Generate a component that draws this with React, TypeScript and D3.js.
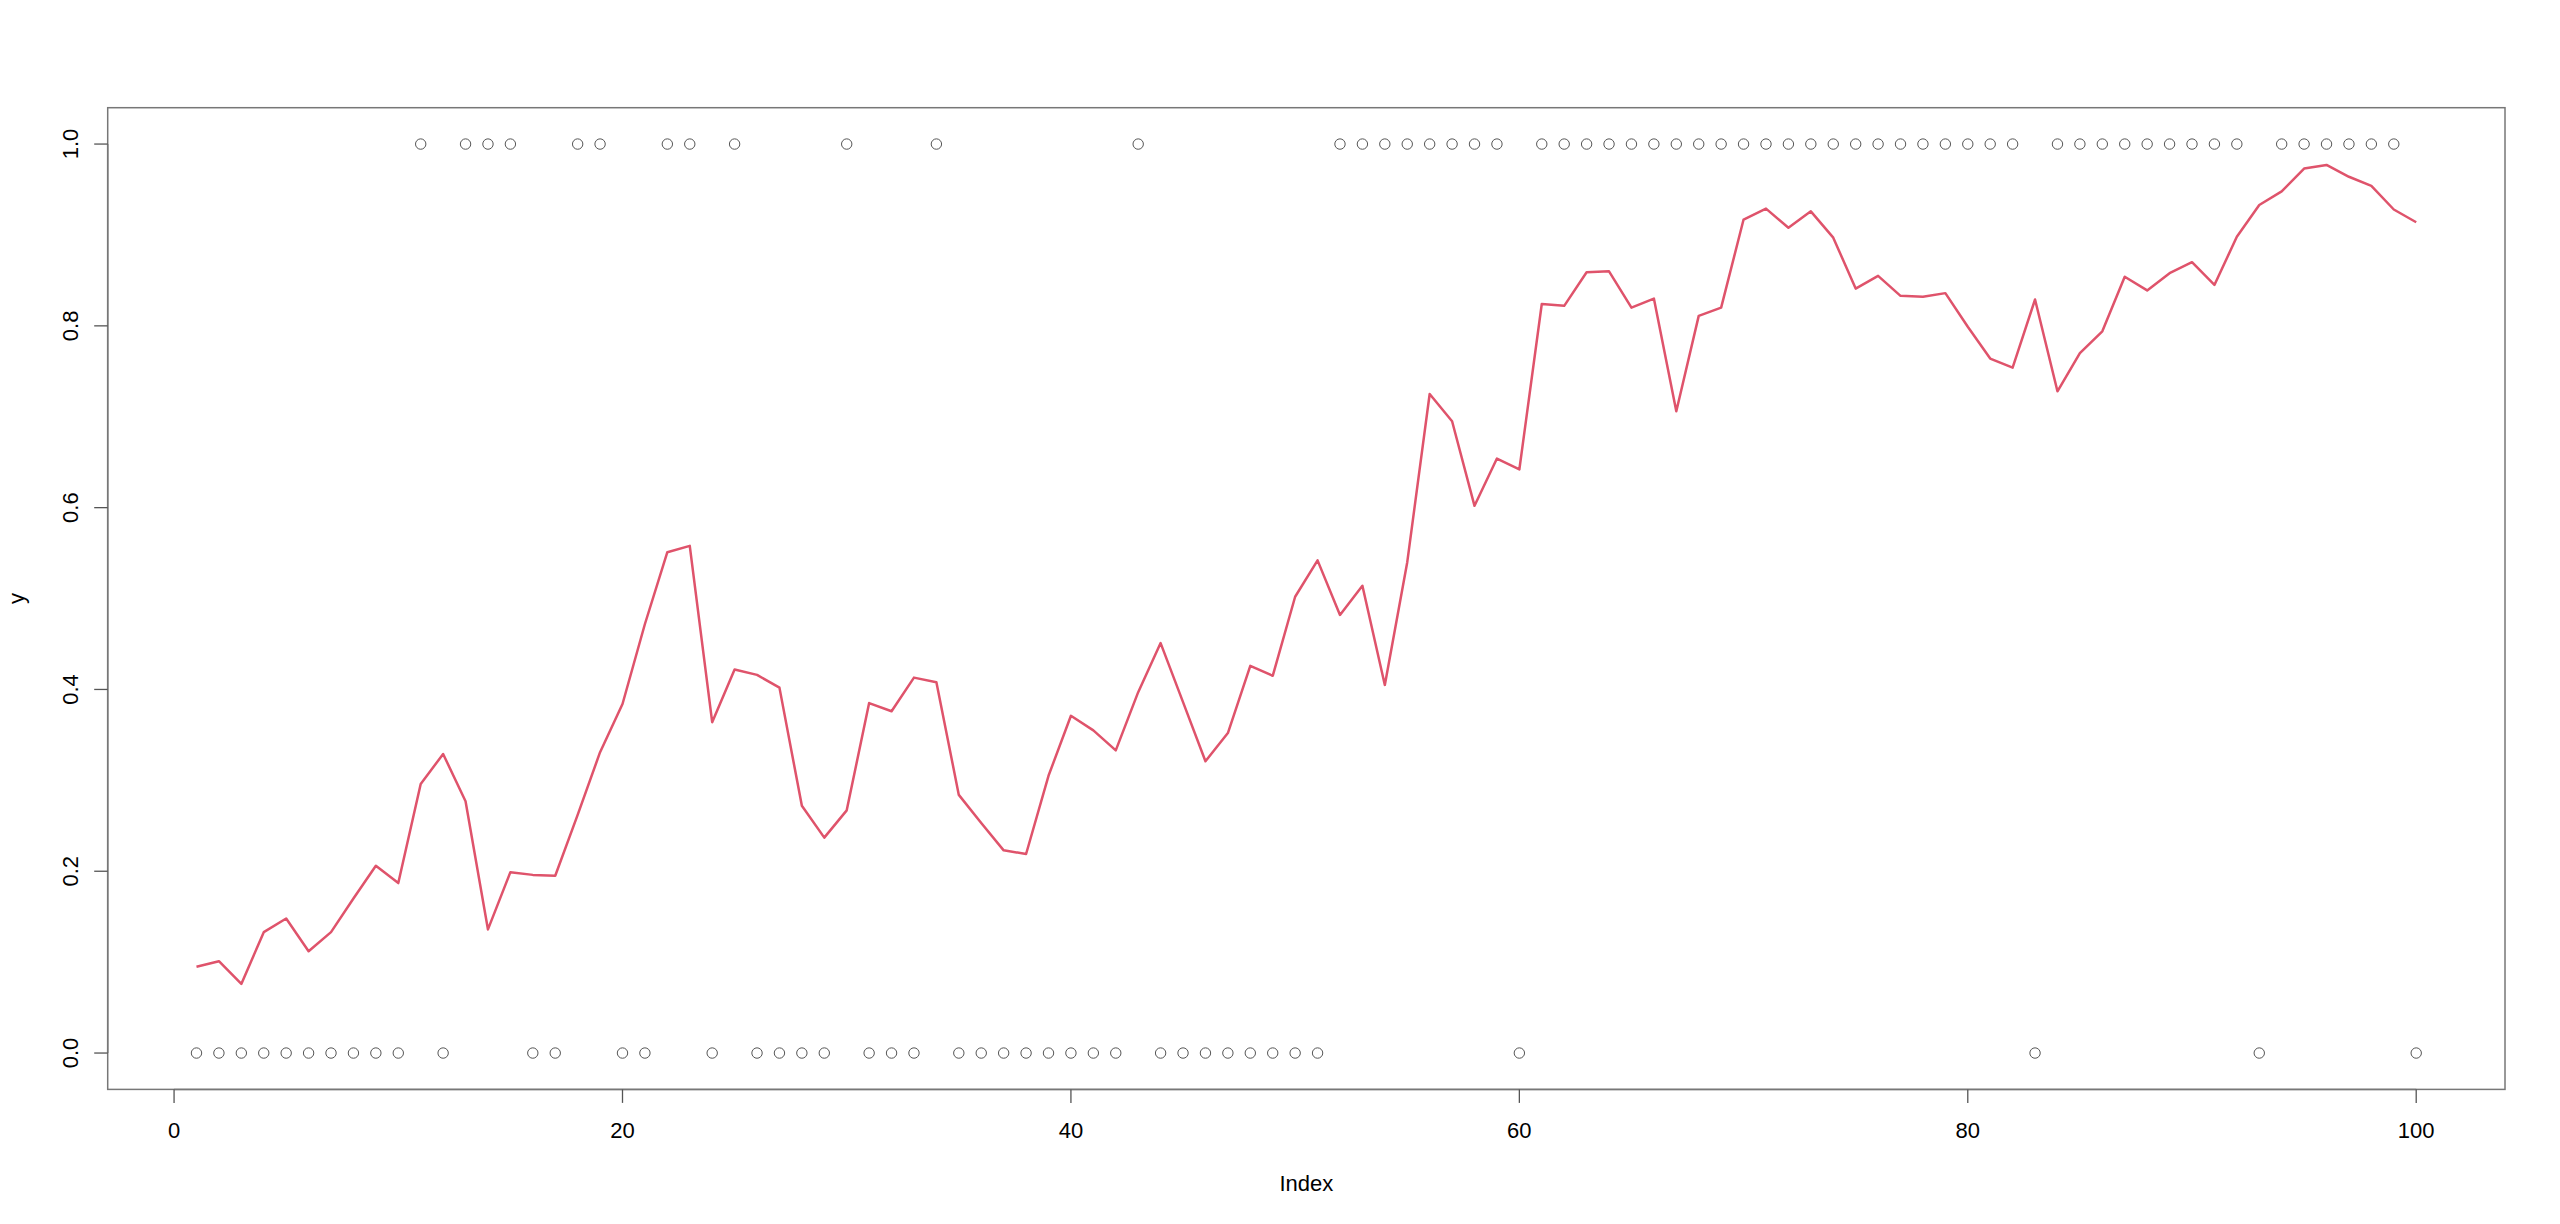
import React from "react";
import * as d3 from "d3";

const index: number[] = Array.from({ length: 100 }, (_, i) => i + 1);

const observed: number[] = [
  0, 0, 0, 0, 0, 0, 0, 0, 0, 0,
  1, 0, 1, 1, 1, 0, 0, 1, 1, 0,
  0, 1, 1, 0, 1, 0, 0, 0, 0, 1,
  0, 0, 0, 1, 0, 0, 0, 0, 0, 0,
  0, 0, 1, 0, 0, 0, 0, 0, 0, 0,
  0, 1, 1, 1, 1, 1, 1, 1, 1, 0,
  1, 1, 1, 1, 1, 1, 1, 1, 1, 1,
  1, 1, 1, 1, 1, 1, 1, 1, 1, 1,
  1, 1, 0, 1, 1, 1, 1, 1, 1, 1,
  1, 1, 0, 1, 1, 1, 1, 1, 1, 0,
];

const fitted: number[] = [
  0.095, 0.101, 0.076, 0.133, 0.148, 0.112, 0.133, 0.170, 0.206, 0.187,
  0.296, 0.329, 0.277, 0.136, 0.199, 0.196, 0.195, 0.262, 0.331, 0.384,
  0.472, 0.551, 0.558, 0.364, 0.422, 0.416, 0.402, 0.272, 0.237, 0.267,
  0.385, 0.376, 0.413, 0.408, 0.284, 0.253, 0.223, 0.219, 0.305, 0.371,
  0.355, 0.333, 0.397, 0.451, 0.386, 0.321, 0.352, 0.426, 0.415, 0.502,
  0.542, 0.482, 0.514, 0.405, 0.540, 0.725, 0.695, 0.602, 0.654, 0.642,
  0.824, 0.822, 0.859, 0.860, 0.820, 0.830, 0.706, 0.811, 0.820, 0.917,
  0.929, 0.908, 0.926, 0.897, 0.841, 0.855, 0.833, 0.832, 0.836, 0.799,
  0.764, 0.754, 0.829, 0.728, 0.770, 0.794, 0.854, 0.839, 0.858, 0.870,
  0.845, 0.898, 0.933, 0.948, 0.973, 0.977, 0.964, 0.954, 0.928, 0.914,
];

const xTicks: number[] = [0, 20, 40, 60, 80, 100];
const yTicks: number[] = [0, 0.2, 0.4, 0.6, 0.8, 1.0];
const xLabel = "Index";
const yLabel = "y";

export default function App() {
  const W = 2560;
  const H = 1224;
  const left = 107.7;
  const right = 2505;
  const top = 107.7;
  const bottom = 1089.4;

  const xr = d3.extent(index) as [number, number];
  const xpad = (xr[1] - xr[0]) * 0.04;
  const x = d3.scaleLinear().domain([xr[0] - xpad, xr[1] + xpad]).range([left, right]);
  const y = d3.scaleLinear().domain([-0.04, 1.04]).range([bottom, top]);

  const line = d3
    .line<number>()
    .x((_, i) => x(index[i]))
    .y((d) => y(d));

  const font = "'Liberation Sans', Arial, sans-serif";
  const fs = 22;
  const axisColor = "#555";
  const boxColor = "#777";
  const tick = 13.5;
  const midX = (left + right) / 2;
  const midY = (top + bottom) / 2;

  return (
    <svg
      width={W}
      height={H}
      style={{ position: "absolute", left: 0, top: 0, display: "block", background: "#fff" }}
      fontFamily={font}
    >
      <rect x={0} y={0} width={W} height={H} fill="#fff" />
      <rect x={left} y={top} width={right - left} height={bottom - top} fill="none" stroke={boxColor} strokeWidth={1.5} />
      {observed.map((v, i) => (
        <circle key={i} cx={x(index[i])} cy={y(v)} r={5.2} fill="none" stroke="#555" strokeWidth={1} />
      ))}
      <path d={line(fitted) || ""} fill="none" stroke="#DF536B" strokeWidth={2.5} strokeLinejoin="round" />
      {/* x axis */}
      <line x1={x(xTicks[0])} x2={x(xTicks[xTicks.length - 1])} y1={bottom} y2={bottom} stroke={boxColor} strokeWidth={1.5} />
      {xTicks.map((t) => (
        <g key={t}>
          <line x1={x(t)} x2={x(t)} y1={bottom} y2={bottom + tick} stroke={axisColor} strokeWidth={1.3} />
          <text x={x(t)} y={1138} fontSize={fs} textAnchor="middle" fill="#000">
            {t}
          </text>
        </g>
      ))}
      {/* y axis */}
      <line x1={left} x2={left} y1={y(yTicks[0])} y2={y(yTicks[yTicks.length - 1])} stroke={boxColor} strokeWidth={1.5} />
      {yTicks.map((t) => (
        <g key={t}>
          <line x1={left - tick} x2={left} y1={y(t)} y2={y(t)} stroke={axisColor} strokeWidth={1.3} />
          <text
            transform={`translate(${77.7},${y(t)}) rotate(-90)`}
            fontSize={fs}
            textAnchor="middle"
            fill="#000"
          >
            {t.toFixed(1)}
          </text>
        </g>
      ))}
      <text x={midX} y={1190.7} fontSize={fs} textAnchor="middle" fill="#000">
        {xLabel}
      </text>
      <text transform={`translate(${23.8},${midY}) rotate(-90)`} fontSize={fs} textAnchor="middle" fill="#000">
        {yLabel}
      </text>
    </svg>
  );
}
